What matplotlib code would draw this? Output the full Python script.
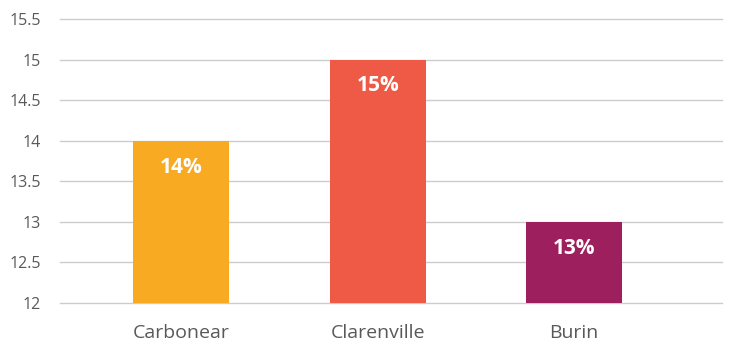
import matplotlib
matplotlib.use("Agg")
import matplotlib.pyplot as plt

# data
categories = ["Carbonear", "Clarenville", "Burin"]
values = [14, 15, 13]
labels = ["14%", "15%", "13%"]
colors = ["#F8AB22", "#EE5A45", "#9E1F5D"]
yticks = [12, 12.5, 13, 13.5, 14, 14.5, 15, 15.5]
ytick_labels = ["12", "12.5", "13", "13.5", "14", "14.5", "15", "15.5"]

plt.rcParams["font.family"] = ["Open Sans", "DejaVu Sans"]

fig = plt.figure(figsize=(7.32, 3.43), dpi=100)
ax = fig.add_axes([60 / 732, 1 - 303 / 343, 662 / 732, 284 / 343])

x = list(range(len(categories)))
ax.bar(x, [v - 12 for v in values], bottom=12, width=0.49, color=colors, zorder=3)

for xi, v, lab in zip(x, values, labels):
    ax.annotate(lab, (xi, v), xytext=(0, -19), textcoords="offset points",
                ha="center", va="center", color="white", fontsize=15,
                fontweight="bold", zorder=4)

ax.set_ylim(12, 15.5)
ax.set_xlim(-0.618, 2.753)
ax.set_yticks(yticks)
ax.set_yticklabels(ytick_labels)
ax.set_xticks(x)
ax.set_xticklabels(categories)
ax.grid(axis="y", color="#CCCCCC", linewidth=1, zorder=0)
for gl in ax.get_ygridlines():
    gl.set_clip_on(False)
for s in ax.spines.values():
    s.set_visible(False)
ax.tick_params(axis="y", length=0, pad=14, labelsize=11.5, labelcolor="#595959")
ax.tick_params(axis="x", length=0, pad=15, labelsize=14, labelcolor="#595959")

fig.savefig("out.png", dpi=100)
